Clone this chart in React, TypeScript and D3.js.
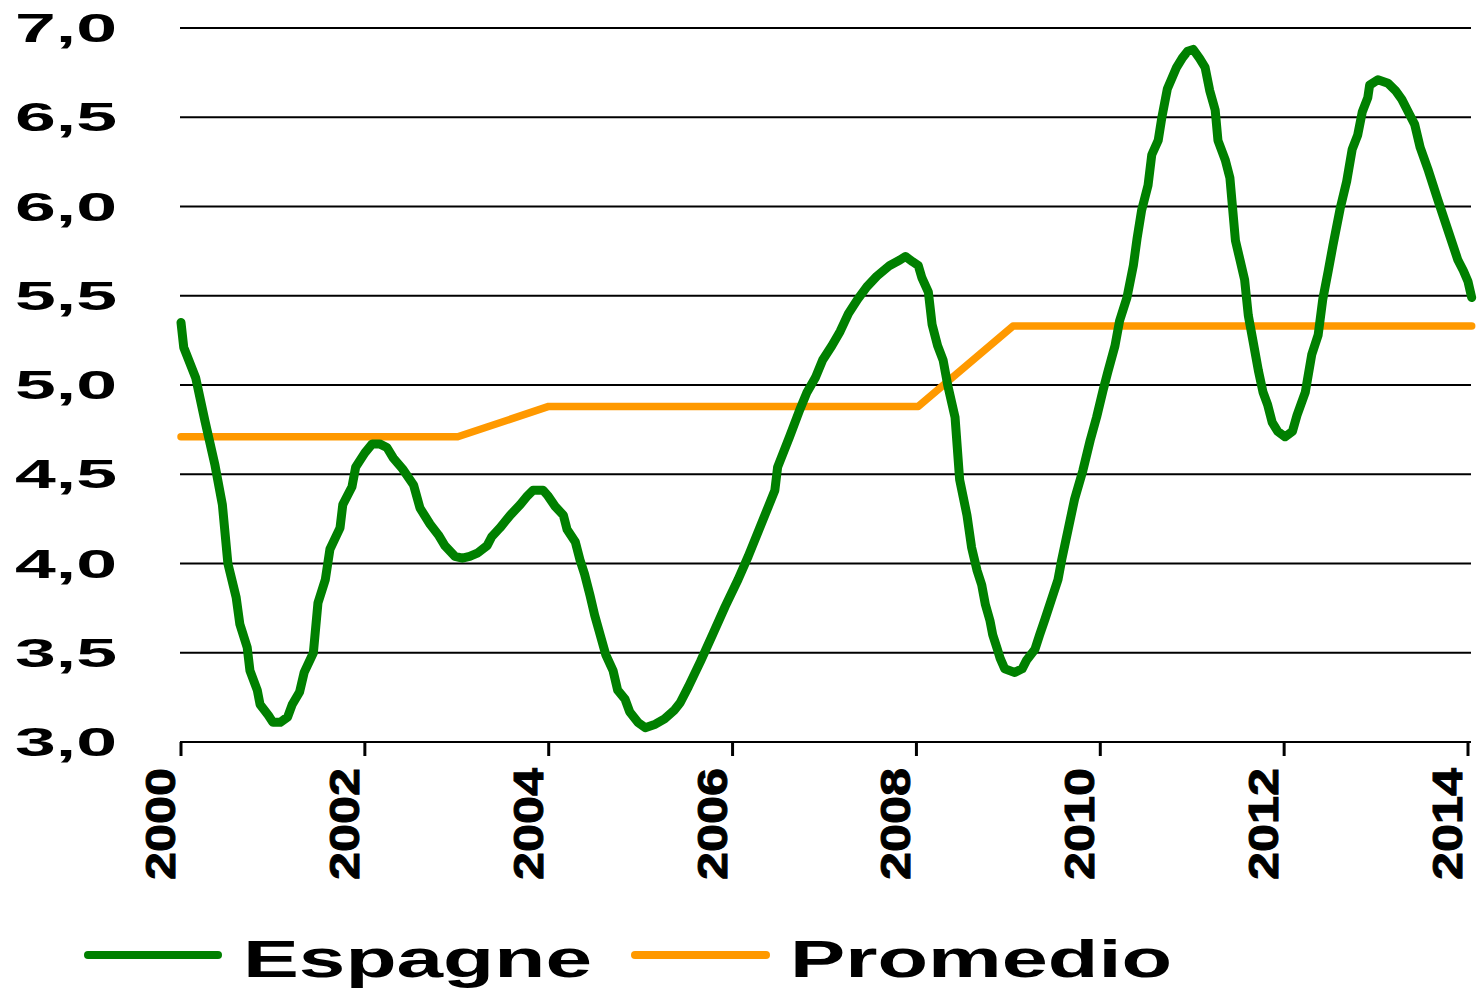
import React, { useRef, useEffect } from 'react';
import * as d3 from 'd3';

// Espagne series: time (decimal year) and value
const espagneTime = [
  2000.0, 2000.03, 2000.16, 2000.26, 2000.37, 2000.45, 2000.51, 2000.6, 2000.64, 2000.72,
  2000.75, 2000.83, 2000.86, 2000.95, 2001.0, 2001.08, 2001.16, 2001.21, 2001.29, 2001.34,
  2001.44, 2001.49, 2001.57, 2001.62, 2001.73, 2001.76, 2001.86, 2001.9, 2002.0, 2002.08,
  2002.16, 2002.24, 2002.31, 2002.41, 2002.53, 2002.6, 2002.71, 2002.8, 2002.87, 2002.98,
  2003.06, 2003.14, 2003.23, 2003.33, 2003.38, 2003.47, 2003.58, 2003.69, 2003.77, 2003.83,
  2003.94, 2003.99, 2004.07, 2004.16, 2004.2, 2004.29, 2004.34, 2004.39, 2004.45, 2004.5,
  2004.56, 2004.62, 2004.7, 2004.75, 2004.83, 2004.88, 2004.97, 2005.05, 2005.16, 2005.26,
  2005.37, 2005.43, 2005.52, 2005.65, 2005.79, 2005.92, 2006.06, 2006.17, 2006.28, 2006.39,
  2006.46, 2006.49, 2006.62, 2006.73, 2006.81, 2006.9, 2006.98, 2007.08, 2007.17, 2007.26,
  2007.36, 2007.46, 2007.57, 2007.71, 2007.82, 2007.88, 2007.96, 2008.02, 2008.06, 2008.13,
  2008.17, 2008.23, 2008.29, 2008.34, 2008.42, 2008.47, 2008.55, 2008.6, 2008.66, 2008.71,
  2008.75, 2008.8, 2008.83, 2008.88, 2008.91, 2008.96, 2009.07, 2009.15, 2009.2, 2009.29,
  2009.34, 2009.4, 2009.47, 2009.54, 2009.58, 2009.65, 2009.72, 2009.81, 2009.89, 2009.96,
  2010.03, 2010.08, 2010.16, 2010.21, 2010.29, 2010.36, 2010.4, 2010.45, 2010.52, 2010.56,
  2010.63, 2010.67, 2010.73, 2010.78, 2010.83, 2010.89, 2010.95, 2011.01, 2011.08, 2011.14,
  2011.19, 2011.25, 2011.28, 2011.36, 2011.41, 2011.47, 2011.52, 2011.57, 2011.61, 2011.66,
  2011.72, 2011.77, 2011.82, 2011.87, 2011.93, 2012.01, 2012.09, 2012.14, 2012.23, 2012.3,
  2012.37, 2012.42, 2012.48, 2012.53, 2012.61, 2012.68, 2012.74, 2012.8, 2012.85, 2012.91,
  2012.93, 2013.02, 2013.13, 2013.21, 2013.28, 2013.37, 2013.42, 2013.48, 2013.57, 2013.67,
  2013.78, 2013.89, 2013.95, 2014.0, 2014.04,
];
const espagneValues = [
  5.35, 5.21, 5.04, 4.8, 4.55, 4.33, 4.0, 3.81, 3.66, 3.53,
  3.4, 3.29, 3.21, 3.15, 3.11, 3.11, 3.14, 3.21, 3.28, 3.39,
  3.5, 3.78, 3.91, 4.08, 4.2, 4.33, 4.43, 4.54, 4.62, 4.67,
  4.67, 4.65, 4.59, 4.53, 4.44, 4.31, 4.22, 4.16, 4.1, 4.04,
  4.03, 4.04, 4.06, 4.1, 4.15, 4.2, 4.27, 4.33, 4.38, 4.41,
  4.41, 4.38, 4.32, 4.27, 4.19, 4.12, 4.02, 3.94, 3.82, 3.71,
  3.6, 3.49, 3.4, 3.29, 3.24, 3.17, 3.11, 3.08, 3.1, 3.13,
  3.18, 3.22, 3.31, 3.45, 3.61, 3.76, 3.91, 4.04, 4.18, 4.32,
  4.41, 4.54, 4.71, 4.86, 4.96, 5.04, 5.14, 5.22, 5.3, 5.4,
  5.48, 5.55, 5.61, 5.67, 5.7, 5.72, 5.69, 5.67, 5.6, 5.52,
  5.34, 5.22, 5.14, 5.0, 4.82, 4.47, 4.27, 4.09, 3.96, 3.88,
  3.77, 3.68, 3.6, 3.52, 3.47, 3.41, 3.39, 3.41, 3.46, 3.52,
  3.6, 3.69, 3.8, 3.91, 4.02, 4.19, 4.36, 4.52, 4.69, 4.82,
  4.97, 5.07, 5.22, 5.36, 5.49, 5.67, 5.82, 5.98, 6.12, 6.29,
  6.37, 6.5, 6.66, 6.72, 6.78, 6.83, 6.87, 6.88, 6.83, 6.78,
  6.65, 6.54, 6.37, 6.26, 6.16, 5.81, 5.7, 5.59, 5.39, 5.25,
  5.08, 4.96, 4.89, 4.79, 4.74, 4.71, 4.74, 4.83, 4.96, 5.17,
  5.28, 5.48, 5.64, 5.78, 5.99, 6.14, 6.32, 6.4, 6.53, 6.61,
  6.68, 6.71, 6.69, 6.65, 6.6, 6.51, 6.46, 6.33, 6.2, 6.04,
  5.87, 5.7, 5.64, 5.58, 5.49,
];

// Promedio series
const promedioTime = [2000.0, 2003.01, 2004.0, 2008.02, 2009.05, 2014.04];
const promedioValues = [4.71, 4.71, 4.88, 4.88, 5.33, 5.33];

const yTicks = [3.0, 3.5, 4.0, 4.5, 5.0, 5.5, 6.0, 6.5, 7.0];
const xTicks = [2000, 2002, 2004, 2006, 2008, 2010, 2012, 2014];
const seriesNames = ['Espagne', 'Promedio'];
const seriesColors = ['#008000', '#FF9900'];

const App: React.FC = () => {
  const chartRef = useRef<SVGSVGElement | null>(null);

  useEffect(() => {
    if (!chartRef.current) return;
    const svg = d3.select(chartRef.current);
    svg.selectAll('*').remove();

    const width = 1478;
    const height = 988;
    const font = '"Liberation Sans", Arial, sans-serif';

    const x = d3.scaleLinear().domain([2000, 2014]).range([181, 1468]);
    const y = d3.scaleLinear().domain([3, 7]).range([742, 28]);

    svg.attr('width', width).attr('height', height);
    svg.append('rect').attr('width', width).attr('height', height).attr('fill', '#fff');

    // Gridlines
    svg.append('g')
      .selectAll('line')
      .data(yTicks.slice(1))
      .join('line')
      .attr('x1', 180)
      .attr('x2', 1471)
      .attr('y1', d => y(d))
      .attr('y2', d => y(d))
      .attr('stroke', '#000')
      .attr('stroke-width', 2);

    // Y labels
    svg.append('g')
      .selectAll('text')
      .data(yTicks)
      .join('text')
      .attr('x', 117)
      .attr('y', d => y(d) + 14)
      .attr('text-anchor', 'end')
      .attr('font-family', font)
      .attr('font-weight', 'bold')
      .attr('font-size', 40)
      .attr('textLength', 102)
      .attr('lengthAdjust', 'spacingAndGlyphs')
      .text(d => d.toFixed(1).replace('.', ','));

    // X axis
    const xAxis = svg.append('g');
    xAxis.append('line')
      .attr('x1', x(2000) - 1)
      .attr('x2', 1471)
      .attr('y1', y(3))
      .attr('y2', y(3))
      .attr('stroke', '#000')
      .attr('stroke-width', 2);
    xAxis.selectAll('line.tick')
      .data(xTicks)
      .join('line')
      .attr('class', 'tick')
      .attr('x1', d => x(d))
      .attr('x2', d => x(d))
      .attr('y1', y(3))
      .attr('y2', y(3) + 14)
      .attr('stroke', '#000')
      .attr('stroke-width', 3);
    xAxis.selectAll('text')
      .data(xTicks)
      .join('text')
      .attr('transform', d => `translate(${x(d) - 6},880) rotate(-90)`)
      .attr('text-anchor', 'start')
      .attr('font-family', font)
      .attr('font-weight', 'bold')
      .attr('font-size', 42)
      .attr('textLength', 112)
      .attr('lengthAdjust', 'spacingAndGlyphs')
      .attr('stroke', '#000')
      .attr('stroke-width', 1)
      .text(d => String(d));

    const line = d3.line<[number, number]>()
      .x(d => x(d[0]))
      .y(d => y(d[1]));

    const promedio = promedioTime.map((t, i) => [t, promedioValues[i]] as [number, number]);
    const espagne = espagneTime.map((t, i) => [t, espagneValues[i]] as [number, number]);

    svg.append('path')
      .datum(promedio)
      .attr('d', line)
      .attr('fill', 'none')
      .attr('stroke', seriesColors[1])
      .attr('stroke-width', 7.5)
      .attr('stroke-linejoin', 'round')
      .attr('stroke-linecap', 'round');

    svg.append('path')
      .datum(espagne)
      .attr('d', line)
      .attr('fill', 'none')
      .attr('stroke', seriesColors[0])
      .attr('stroke-width', 9)
      .attr('stroke-linejoin', 'round')
      .attr('stroke-linecap', 'round');

    // Legend
    const legendItems = [
      { x1: 88, x2: 218, tx: 243, tw: 349 },
      { x1: 635, x2: 766, tx: 790, tw: 382 },
    ];
    const legend = svg.append('g')
      .selectAll('g')
      .data(seriesNames)
      .join('g');
    legend.append('line')
      .attr('x1', (d, i) => legendItems[i].x1)
      .attr('x2', (d, i) => legendItems[i].x2)
      .attr('y1', 955)
      .attr('y2', 955)
      .attr('stroke', (d, i) => seriesColors[i])
      .attr('stroke-width', 8)
      .attr('stroke-linecap', 'round');
    legend.append('text')
      .attr('x', (d, i) => legendItems[i].tx)
      .attr('y', 977)
      .attr('font-family', font)
      .attr('font-weight', 'bold')
      .attr('font-size', 51)
      .attr('textLength', (d, i) => legendItems[i].tw)
      .attr('lengthAdjust', 'spacingAndGlyphs')
      .text(d => d);
  }, []);

  return (
    <div style={{ position: 'absolute', left: 0, top: 0 }}>
      <svg ref={chartRef} style={{ display: 'block' }} />
    </div>
  );
};

export default App;
